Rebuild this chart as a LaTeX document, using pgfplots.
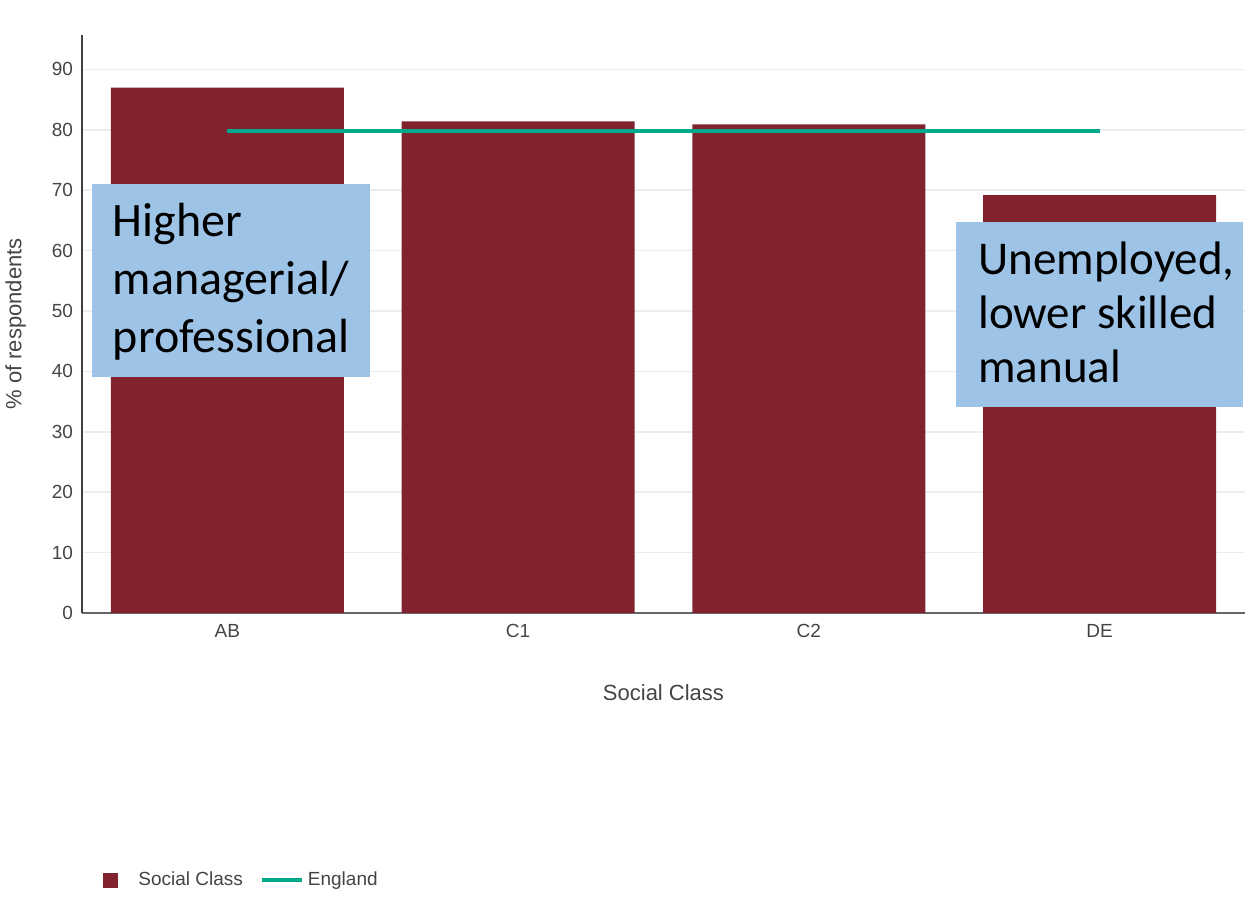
\documentclass[border=0pt]{standalone}
\usepackage{pgfplots}
\pgfplotsset{compat=1.18}
\usepackage{fontspec}
\setmainfont{Liberation Sans}
\newfontfamily\callout{Carlito}

\definecolor{barred}{HTML}{80232F}
\definecolor{engteal}{HTML}{00A98A}
\definecolor{calloutblue}{HTML}{9DC3E6}
\definecolor{gridgray}{HTML}{EDEDED}
\definecolor{txtgray}{HTML}{444444}
\definecolor{axisgray}{HTML}{666666}

\begin{document}
\begin{tikzpicture}
\begin{axis}[
  scale only axis,
  width=581.5pt, height=289pt,
  xmin=-0.5, xmax=3.5,
  ymin=0, ymax=95.7,
  xtick={0,1,2,3},
  xticklabels={AB,C1,C2,DE},
  ytick={0,10,...,90},
  axis x line*=bottom,
  axis y line*=left,
  x axis line style={axisgray, line width=0.9pt},
  y axis line style={black!75, line width=0.9pt},
  major tick length=0pt,
  ymajorgrids,
  grid style={gridgray, line width=0.8pt},
  /pgf/number format/assume math mode=true,
  tick label style={font=\fontsize{9.5}{11}\selectfont, text=txtgray},
  yticklabel style={xshift=-1pt},
  xticklabel style={yshift=-2pt},
  xlabel={Social Class},
  ylabel={\% of respondents},
  label style={font=\fontsize{11}{13}\selectfont, text=txtgray},
  xlabel style={at={(axis description cs:0.5,-0.137)}, anchor=center},
  ylabel style={at={(axis description cs:-0.057,0.5)}, anchor=center, rotate=0},
  legend columns=-1,
  legend style={
    at={(axis description cs:0.0129,-0.462)}, anchor=west,
    draw=none, fill=none,
    font=\fontsize{9.5}{11}\selectfont, text=txtgray,
    /tikz/every even column/.append style={column sep=6.5pt},
  },
]
% Share of respondents by social class
\addplot[ybar, bar width=116.5pt, bar shift=0pt, fill=barred, draw=none,
  legend image code/.code={
    \fill[barred, draw=none] (0pt,-3.75pt) rectangle (7.5pt,3.75pt);
    \path[draw=none, fill=none] (0pt,-1pt) rectangle (15.5pt,1pt);
  }]
  coordinates {(0,87.0) (1,81.4) (2,80.9) (3,69.2)};
\addlegendentry{Social Class}
% England average
\addplot[engteal, line width=2pt, mark=none,
  legend image code/.code={
    \draw[engteal, line width=2pt] (0pt,0pt) -- (20pt,0pt);
  }]
  coordinates {(0,79.8) (3,79.8)};
\addlegendentry{England}
\end{axis}

% Callout boxes (anchored at the baseline of their last line)
\fill[calloutblue] (5pt,118pt) rectangle (144pt,214.5pt);
\node[anchor=base west, inner sep=0pt, align=left,
  font=\callout\fontsize{24}{29}\selectfont] at (15.3pt,130pt)
  {Higher\\managerial/\\professional};

\fill[calloutblue] (437pt,103pt) rectangle (580.5pt,195.5pt);
\node[anchor=base west, inner sep=0pt, align=left,
  font=\callout\fontsize{23.5}{27}\selectfont] at (448pt,115pt)
  {Unemployed,\\lower skilled\\manual};

\pgfresetboundingbox
\path[use as bounding box] (-41pt,-150.5pt) rectangle (586.5pt,306.5pt);
\end{tikzpicture}
\end{document}
